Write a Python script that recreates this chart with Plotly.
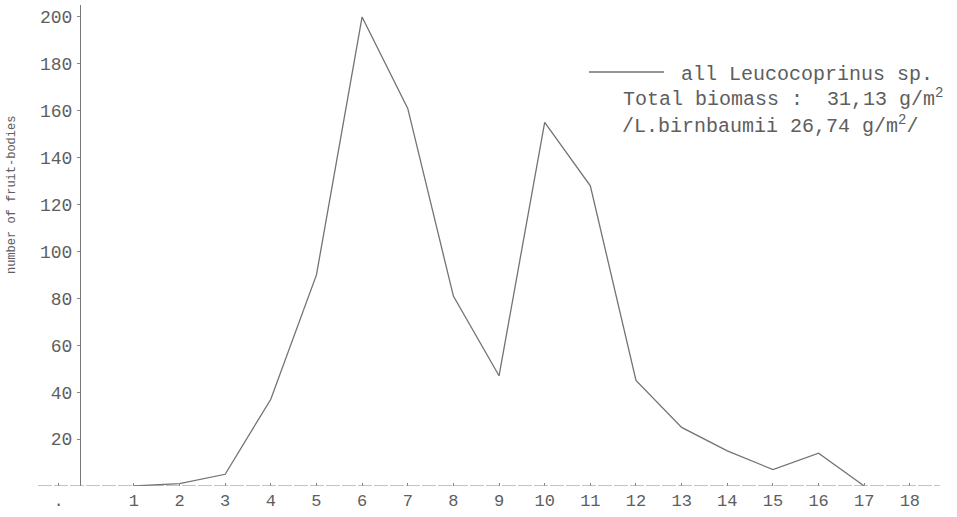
import plotly.graph_objects as go

weeks = [1, 2, 3, 4, 5, 6, 7, 8, 9, 10, 11, 12, 13, 14, 15, 16, 17]
fruit_bodies = [0, 1, 5, 37, 90, 200, 161, 81, 47, 155, 128, 45, 25, 15, 7, 14, 0]

x_tick_vals = [-0.65] + list(range(1, 19))
x_tick_text = ["."] + [str(i) for i in range(1, 19)]
y_tick_vals = [20, 40, 60, 80, 100, 120, 140, 160, 180, 200]

series_name = " all Leucocoprinus sp."
note_1 = "Total biomass :  31,13 g/m<sup>2</sup>"
note_2 = "/L.birnbaumii 26,74 g/m<sup>2</sup>/"
y_title = "number of fruit-bodies"

FONT = "Liberation Mono, DejaVu Sans Mono, monospace"
INK = "#5e5e5e"
LINE = "#737373"

W, H = 957, 517
ML, MR, MT, MB = 38, 17, 5, 31
x_range = [-1.1, 18.66]
y_range = [0, 205.1]
y_axis_x = -0.18
pos = (y_axis_x - x_range[0]) / (x_range[1] - x_range[0])
PW = W - ML - MR
PH = H - MT - MB

fig = go.Figure()
fig.add_trace(go.Scatter(
    x=weeks, y=fruit_bodies, mode="lines", name=series_name,
    line=dict(color=LINE, width=1.3), cliponaxis=False, showlegend=True,
))

fig.update_layout(
    width=W, height=H,
    margin=dict(l=ML, r=MR, t=MT, b=MB, autoexpand=False),
    paper_bgcolor="white", plot_bgcolor="white",
    font=dict(family=FONT, color=INK, size=18),
    showlegend=True,
    legend=dict(
        x=(584 - ML) / PW, y=(H - MB - 72) / PH,
        xanchor="left", yanchor="middle",
        itemwidth=75, bgcolor="rgba(0,0,0,0)", borderwidth=0,
        font=dict(family=FONT, size=20, color=INK),
        tracegroupgap=0, itemclick=False,
    ),
    xaxis=dict(
        range=x_range, showgrid=False, zeroline=False, showline=False,
        automargin=False,
        tickmode="array", tickvals=x_tick_vals, ticktext=x_tick_text,
        ticks="inside", ticklen=3, tickcolor="#888", tickwidth=1,
        ticklabelstandoff=2,
        tickfont=dict(family=FONT, size=17, color=INK),
    ),
    yaxis=dict(
        range=y_range, showgrid=False, zeroline=False,
        anchor="free", position=pos, automargin=False,
        showline=True, linecolor="#777", linewidth=1.2,
        tickmode="array", tickvals=y_tick_vals,
        ticks="outside", ticklen=3, tickcolor="#888", tickwidth=1,
        ticklabelstandoff=1,
        tickfont=dict(family=FONT, size=18, color=INK),
    ),
)

# typewritten x-axis baseline (slightly broken underscores)
fig.add_shape(type="line", xref="x", yref="y", x0=x_range[0], x1=x_range[1], y0=0, y1=0,
              line=dict(color="#8a8a8a", width=1.2, dash="14px,2px"))

fig.add_annotation(text=note_1, xref="paper", yref="paper",
                   x=(621 - ML) / PW, y=(H - MB - 98) / PH,
                   xanchor="left", yanchor="middle", showarrow=False,
                   font=dict(family=FONT, size=20, color=INK))
fig.add_annotation(text=note_2, xref="paper", yref="paper",
                   x=(620 - ML) / PW, y=(H - MB - 125) / PH,
                   xanchor="left", yanchor="middle", showarrow=False,
                   font=dict(family=FONT, size=20, color=INK))
fig.add_annotation(text=y_title, xref="paper", yref="paper",
                   x=(12 - ML) / PW, y=(H - MB - 195) / PH,
                   xanchor="center", yanchor="middle", textangle=-90, showarrow=False,
                   font=dict(family=FONT, size=12, color=INK))

fig.write_html("out.html", config={"displayModeBar": False, "staticPlot": True})

# remove the browser's default page margin so the figure sits at the window's corner
with open("out.html", "r", encoding="utf-8") as f:
    page = f.read()
page = page.replace("<head>", "<head><style>html,body{margin:0;padding:0;overflow:hidden;}</style>", 1)
with open("out.html", "w", encoding="utf-8") as f:
    f.write(page)
